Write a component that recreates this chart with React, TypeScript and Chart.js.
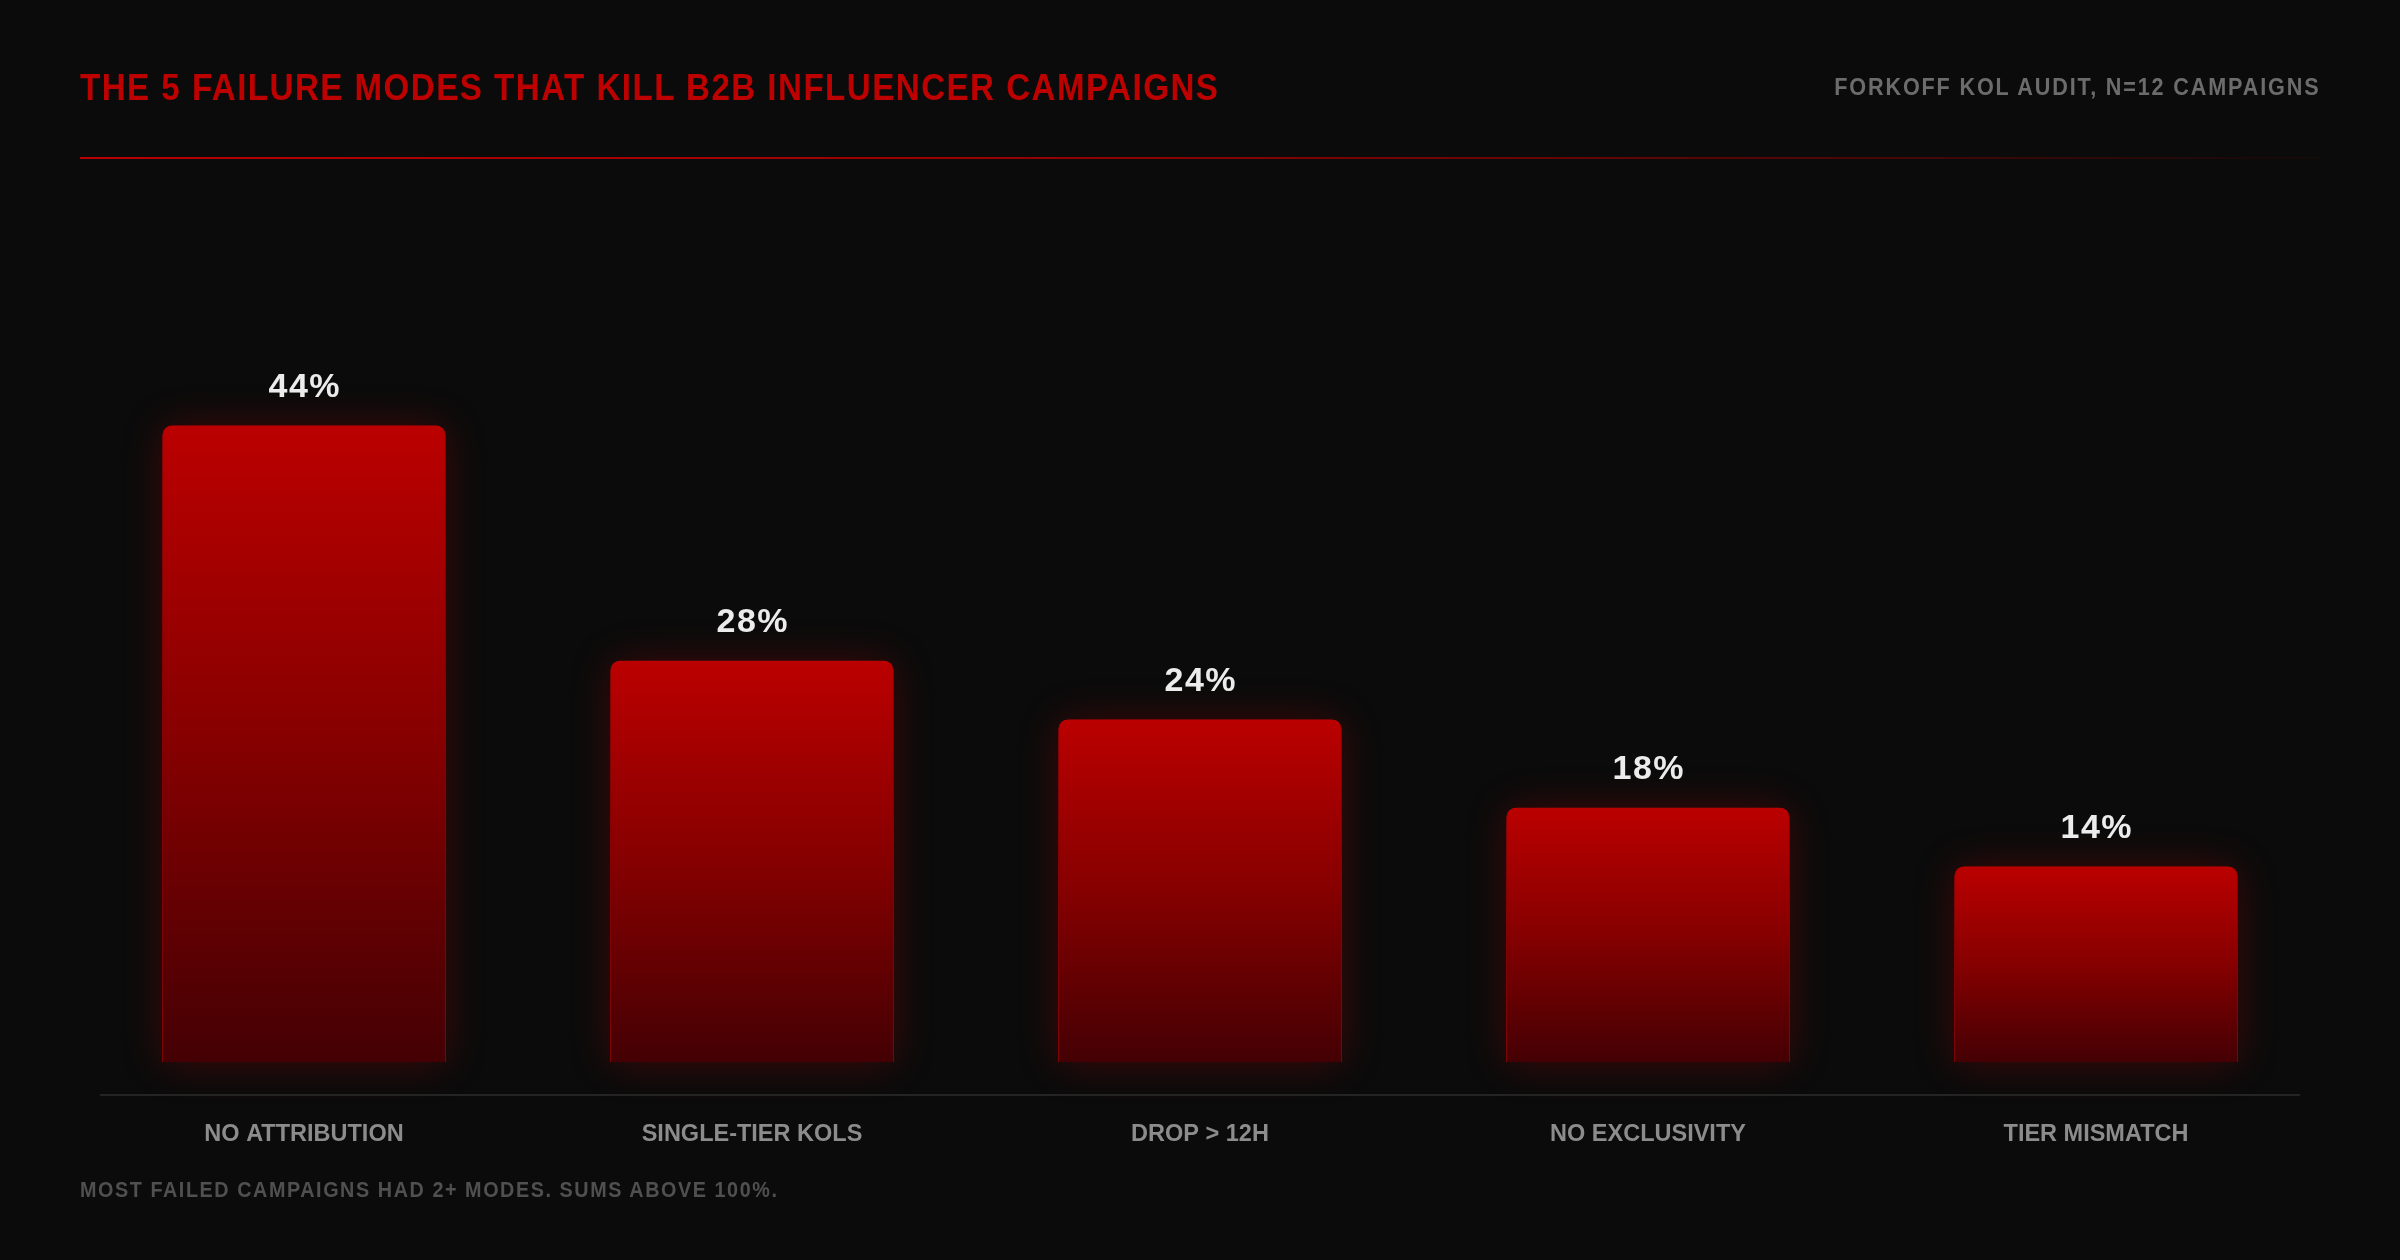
import React, { useEffect, useRef } from "react";
import { Chart, registerables } from "chart.js";

Chart.register(...registerables);

const titleText = "THE 5 FAILURE MODES THAT KILL B2B INFLUENCER CAMPAIGNS";
const sourceText = "FORKOFF KOL AUDIT, N=12 CAMPAIGNS";
const footnoteText = "MOST FAILED CAMPAIGNS HAD 2+ MODES. SUMS ABOVE 100%.";
const categories = ["NO ATTRIBUTION", "SINGLE-TIER KOLS", "DROP > 12H", "NO EXCLUSIVITY", "TIER MISMATCH"];
const failureShare = [44, 28, 24, 18, 14];
const yMin = -1.566;
const yMax = 50;
const barBase = 0.68;

const SANS = '"Liberation Sans", Arial, sans-serif';

const glowPlugin = {
  id: "glow",
  beforeDatasetsDraw(chart: any) {
    const ctx = chart.ctx;
    const meta = chart.getDatasetMeta(0);
    ctx.save();
    ctx.shadowColor = "rgba(200,0,0,0.3)";
    ctx.shadowBlur = 42;
    ctx.fillStyle = "#1a0000";
    meta.data.forEach((bar: any) => {
      const p = bar.getProps(["x", "y", "base", "width"], true);
      ctx.beginPath();
      (ctx as any).roundRect(p.x - p.width / 2 + 2, p.y + 2, p.width - 4, p.base - p.y - 2, [10, 10, 0, 0]);
      ctx.fill();
    });
    ctx.restore();
  },
};

const valueLabelPlugin = {
  id: "valueLabels",
  afterDraw(chart: any) {
    const ctx = chart.ctx;
    const meta = chart.getDatasetMeta(0);
    ctx.save();
    (ctx as any).letterSpacing = "1.5px";
    ctx.font = '700 34px "Liberation Sans", Arial, sans-serif';
    ctx.fillStyle = "#ececec";
    ctx.textAlign = "center";
    ctx.textBaseline = "alphabetic";
    meta.data.forEach((bar: any, i: number) => {
      ctx.fillText(`${failureShare[i]}%`, bar.x + 0.75, bar.y - 28);
    });
    ctx.restore();
    (ctx as any).letterSpacing = "0px";
    const a = chart.chartArea;
    ctx.save();
    ctx.strokeStyle = "#242424";
    ctx.lineWidth = 2;
    ctx.beginPath();
    ctx.moveTo(a.left + 20, a.bottom);
    ctx.lineTo(a.right - 20, a.bottom);
    ctx.stroke();
    ctx.restore();
  },
};

function ChartCanvas() {
  const ref = useRef<HTMLCanvasElement | null>(null);
  useEffect(() => {
    if (!ref.current) return;
    const chart = new Chart(ref.current, {
      type: "bar",
      data: {
        labels: categories,
        datasets: [
          {
            data: failureShare,
            base: barBase,
            backgroundColor: (c: any) => {
              const ch = c.chart;
              const ys = ch.scales && ch.scales.y;
              if (!ys || c.type !== "data") return "#900000";
              const top = ys.getPixelForValue(c.raw as number);
              const base = ys.getPixelForValue(barBase);
              if (!isFinite(top) || !isFinite(base) || top === base) return "#900000";
              const g = ch.ctx.createLinearGradient(0, top, 0, base);
              g.addColorStop(0, "#bb0000");
              g.addColorStop(0.5, "#860000");
              g.addColorStop(1, "#440004");
              return g;
            },
            borderColor: "rgba(195,0,0,0.6)",
            borderWidth: { top: 0, left: 1, right: 1, bottom: 0 },
            borderSkipped: "bottom",
            borderRadius: { topLeft: 10, topRight: 10, bottomLeft: 0, bottomRight: 0 },
            categoryPercentage: 1,
            barPercentage: 0.634,
          },
        ],
      },
      options: {
        animation: false,
        responsive: false,
        devicePixelRatio: 1,
        layout: { padding: { left: 80, right: 80, top: 337, bottom: 0 } },
        plugins: {
          legend: { display: false },
          tooltip: { enabled: false },
          title: { display: false },
        },
        scales: {
          x: {
            grid: { display: false, drawTicks: false },
            border: { display: false },
            ticks: {
              color: "#8c8c8c",
              padding: 25,
              font: { family: SANS, size: 23.5, weight: "bold" },
              maxRotation: 0,
              autoSkip: false,
            },
            afterFit: (scale: any) => {
              scale.height = 165;
            },
          },
          y: {
            display: false,
            min: yMin,
            max: yMax,
            grid: { display: false },
          },
        },
      },
      plugins: [glowPlugin, valueLabelPlugin],
    } as any);
    return () => chart.destroy();
  }, []);
  return (
    <canvas
      ref={ref}
      width={2400}
      height={1260}
      style={{ position: "absolute", left: 0, top: 0, width: 2400, height: 1260 }}
    />
  );
}

export default function App() {
  useEffect(() => {
    document.body.style.margin = "0";
    document.body.style.background = "#0b0b0b";
  }, []);
  return (
    <div
      style={{
        position: "absolute",
        left: 0,
        top: 0,
        width: 2400,
        height: 1260,
        background: "#0b0b0b",
        overflow: "hidden",
      }}
    >
      <ChartCanvas />
      <div
        style={{
          position: "absolute",
          left: 80,
          top: 70,
          fontFamily: SANS,
          fontWeight: 700,
          fontSize: 36,
          lineHeight: "36px",
          letterSpacing: "1.6px",
          color: "#bd0000",
          whiteSpace: "nowrap",
          transform: "scaleX(0.92)",
          transformOrigin: "left top",
        }}
      >
        {titleText}
      </div>
      <div
        style={{
          position: "absolute",
          right: 80,
          top: 76,
          fontFamily: SANS,
          fontWeight: 700,
          fontSize: 23.5,
          lineHeight: "23.5px",
          letterSpacing: "2px",
          color: "#6c6c6c",
          whiteSpace: "nowrap",
          transform: "scaleX(0.92)",
          transformOrigin: "right top",
        }}
      >
        {sourceText}
      </div>
      <div
        style={{
          position: "absolute",
          left: 80,
          top: 157,
          width: 2240,
          height: 2,
          background:
            "linear-gradient(90deg, rgba(185,0,0,1) 0%, rgba(180,0,0,0.85) 40%, rgba(170,0,0,0.4) 80%, rgba(160,0,0,0.05) 100%)",
        }}
      />
      <div
        style={{
          position: "absolute",
          left: 80,
          top: 1180,
          fontFamily: SANS,
          fontWeight: 700,
          fontSize: 21.5,
          lineHeight: "21.5px",
          letterSpacing: "1.7px",
          color: "#505050",
          whiteSpace: "nowrap",
          transform: "scaleX(0.92)",
          transformOrigin: "left top",
        }}
      >
        {footnoteText}
      </div>
    </div>
  );
}
